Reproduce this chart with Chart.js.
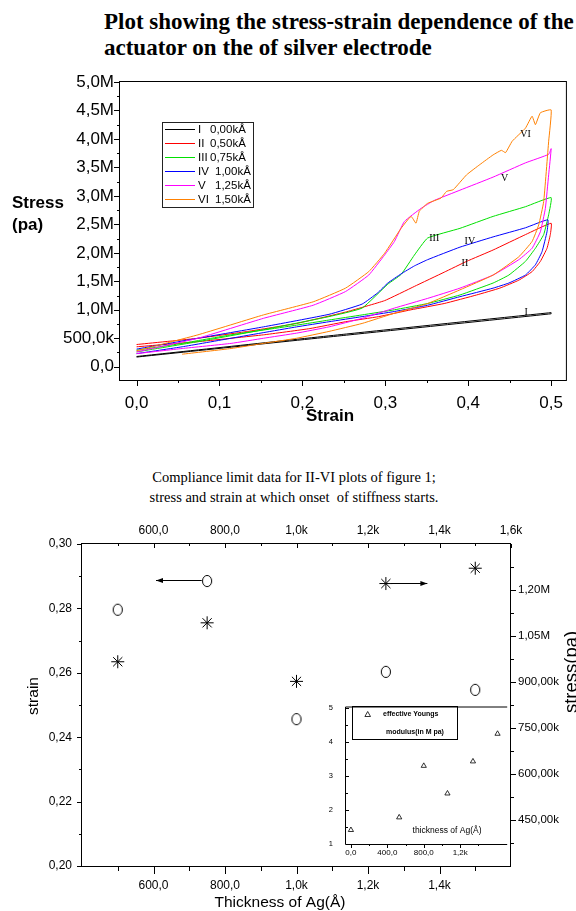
<!DOCTYPE html>
<html>
<head>
<meta charset="utf-8">
<title>Stress-strain of the silver electrode actuator</title>
<script src="https://cdn.jsdelivr.net/npm/chart.js@4.4.1/dist/chart.umd.min.js"></script>
<style>
  body { margin: 0; background: #fff; }
  #page { position: relative; width: 576px; height: 911px; overflow: hidden; background: #fff; }
  #page canvas { position: absolute; }
  .heading { position: absolute; white-space: nowrap; color: #000; }
  #title1 { left: 104px; top: 9px; font: bold 23px/26px "Liberation Serif", "Times New Roman", serif; }
  #title2 { left: 0; width: 588px; top: 467px; text-align: center; font: 14.5px/20px "Liberation Serif", "Times New Roman", serif; }
</style>
</head>
<body>
<div id="page">
  <div id="title1" class="heading">Plot showing the stress-strain dependence of the<br>actuator on the of silver electrode</div>
  <canvas id="loopChart" width="576" height="370" style="left:0;top:60px"></canvas>
  <div id="title2" class="heading">Compliance limit data for II-VI plots of figure 1;<br>stress and strain at which onset&nbsp; of stiffness starts.</div>
  <canvas id="onsetChart" width="576" height="396" style="left:0;top:515px"></canvas>
  <canvas id="insetChart" width="212" height="175" style="left:300px;top:690px"></canvas>
</div>
<script>
/*-------------------------------------------------------------------------------
 DATA - top plot, stress (MPa) against strain, loading branch then unloading
 -------------------------------------------------------------------------------*/

const loopNames = ['I', 'II', 'III', 'IV', 'V', 'VI'];
const loopThickness = ['0,00kÅ', '0,50kÅ', '0,75kÅ', '1,00kÅ', '1,25kÅ', '1,50kÅ'];

const strainI = [0, 0.25, 0.5, 0.5, 0.25, 0];
const stressI = [0.18, 0.57, 0.95, 0.93, 0.55, 0.17];

const strainII = [0, 0.074, 0.134, 0.193, 0.252, 0.299, 0.335, 0.371, 0.398, 0.43, 0.469, 0.5,
    0.499, 0.495, 0.487, 0.477, 0.461, 0.438, 0.41, 0.371, 0.331, 0.292, 0.252, 0.209, 0.153, 0.074, 0];
const stressII = [0.39, 0.50, 0.62, 0.76, 0.96, 1.16, 1.41, 1.66, 1.85, 2.05, 2.32, 2.52,
    2.32, 2.08, 1.85, 1.67, 1.52, 1.38, 1.26, 1.11, 1.00, 0.88, 0.79, 0.67, 0.56, 0.44, 0.35];

const strainIII = [0, 0.074, 0.153, 0.232, 0.272, 0.303, 0.319, 0.335, 0.351, 0.39, 0.43, 0.469, 0.5,
    0.497, 0.491, 0.481, 0.469, 0.449, 0.43, 0.39, 0.351, 0.311, 0.272, 0.232, 0.193, 0.114, 0.055, 0];
const stressIII = [0.26, 0.44, 0.65, 0.88, 1.03, 1.45, 1.62, 1.96, 2.26, 2.43, 2.64, 2.81, 2.97,
    2.67, 2.32, 2.08, 1.85, 1.61, 1.47, 1.26, 1.11, 1.00, 0.91, 0.82, 0.73, 0.56, 0.41, 0.29];

const strainIV = [0, 0.074, 0.153, 0.232, 0.272, 0.291, 0.303, 0.319, 0.335, 0.351, 0.39, 0.43, 0.469, 0.496,
    0.495, 0.489, 0.481, 0.469, 0.449, 0.43, 0.39, 0.351, 0.311, 0.272, 0.232, 0.193, 0.114, 0.055, 0];
const stressIV = [0.31, 0.50, 0.70, 0.92, 1.10, 1.30, 1.47, 1.63, 1.77, 1.88, 2.10, 2.28, 2.44, 2.58,
    2.37, 2.02, 1.79, 1.61, 1.47, 1.38, 1.23, 1.08, 0.97, 0.88, 0.79, 0.70, 0.50, 0.35, 0.23];

const strainV = [0, 0.074, 0.153, 0.213, 0.252, 0.28, 0.299, 0.311, 0.323, 0.343, 0.359, 0.39, 0.43, 0.469, 0.497, 0.5,
    0.497, 0.493, 0.487, 0.477, 0.461, 0.43, 0.39, 0.351, 0.311, 0.272, 0.232, 0.193, 0.153, 0.114, 0.055, 0];
const stressV = [0.26, 0.50, 0.85, 1.08, 1.32, 1.61, 1.96, 2.20, 2.55, 2.78, 2.92, 3.10, 3.33, 3.58, 3.73, 3.83,
    3.37, 2.78, 2.37, 2.08, 1.88, 1.61, 1.38, 1.20, 1.03, 0.85, 0.70, 0.59, 0.50, 0.41, 0.32, 0.23];

const strainVI = [0, 0.074, 0.153, 0.213, 0.252, 0.28, 0.299, 0.319, 0.331, 0.337, 0.341, 0.351, 0.367, 0.374,
    0.382, 0.398, 0.414, 0.43, 0.44, 0.445, 0.453, 0.469, 0.477, 0.481, 0.487, 0.5,
    0.497, 0.491, 0.485, 0.477, 0.461, 0.43, 0.39, 0.351, 0.311, 0.272, 0.232, 0.193, 0.153, 0.114, 0.055];
const stressVI = [0.28, 0.56, 0.91, 1.14, 1.38, 1.67, 1.99, 2.43, 2.64, 2.52, 2.73, 2.87, 2.96, 3.08,
    3.11, 3.37, 3.55, 3.72, 3.80, 3.76, 3.96, 4.19, 4.40, 4.25, 4.46, 4.51,
    3.96, 2.90, 2.49, 2.20, 1.93, 1.61, 1.35, 1.11, 0.94, 0.76, 0.62, 0.50, 0.41, 0.32, 0.22];

// where each roman numeral tag sits on the plot
const tagStrain = [0.470, 0.396, 0.359, 0.402, 0.444, 0.469];
const tagStress = [0.95, 1.81, 2.25, 2.21, 3.30, 4.08];

const strainTicks = [0, 0.1, 0.2, 0.3, 0.4, 0.5];
const strainTickLabels = ['0,0', '0,1', '0,2', '0,3', '0,4', '0,5'];
const stressTicks = [0, 0.5, 1, 1.5, 2, 2.5, 3, 3.5, 4, 4.5, 5];
const stressTickLabels = ['0,0', '500,0k', '1,0M', '1,5M', '2,0M', '2,5M', '3,0M', '3,5M', '4,0M', '4,5M', '5,0M'];

/*-------------------------------------------------------------------------------
 DATA - bottom plot, onset of stiffness against Ag thickness
 -------------------------------------------------------------------------------*/

const thickness = [500, 750, 1000, 1250, 1500];
const onsetStrain = [0.2796, 0.2885, 0.2456, 0.2603, 0.2547];
const onsetStress = [966e3, 1093e3, 902e3, 1221e3, 1271e3];

// arrows telling which axis each marker belongs to
const strainArrowX = [735, 607];
const strainArrowY = 0.2888;
const stressArrowX = [1264, 1366];
const stressArrowY = 1224e3;

const thickTicks = [600, 800, 1000, 1200, 1400];
const thickTickLabels = ['600,0', '800,0', '1,0k', '1,2k', '1,4k'];
const thickTopTicks = [600, 800, 1000, 1200, 1400, 1600];
const thickTopTickLabels = ['600,0', '800,0', '1,0k', '1,2k', '1,4k', '1,6k'];
const onsetStrainTicks = [0.20, 0.22, 0.24, 0.26, 0.28, 0.30];
const onsetStrainTickLabels = ['0,20', '0,22', '0,24', '0,26', '0,28', '0,30'];
const onsetStressTicks = [450e3, 600e3, 750e3, 900e3, 1050e3, 1200e3];
const onsetStressTickLabels = ['450,00k', '600,00k', '750,00k', '900,00k', '1,05M', '1,20M'];

// inset: effective Youngs modulus
const insetThickness = [0, 530, 800, 1060, 1340, 1610];
const youngsModulus = [1.41, 1.78, 3.29, 2.48, 3.42, 4.23];
const insetXTicks = [0, 400, 800, 1200];
const insetXTickLabels = ['0,0', '400,0', '800,0', '1,2k'];
const insetYTicks = [1, 2, 3, 4, 5];
const insetYTickLabels = ['1', '2', '3', '4', '5'];


/*-------------------------------------------------------------------------------
 helpers
 -------------------------------------------------------------------------------*/

const sansFont = '"Liberation Sans", Arial, sans-serif';
const serifFont = '"Liberation Serif", "Times New Roman", serif';
const loopColors = ['#000000', '#ff0000', '#00e000', '#0000ff', '#ff00ff', '#ff8000'];

function fixedTicks(values) {
    return function (scale) {
        scale.ticks = values.map(v => ({value: v}));
    };
}

function midpoints(arr) {
    return arr.slice(1).map((v, i) => (v + arr[i]) / 2);
}

function px(scale, v) {
    return Math.round(scale.getPixelForValue(v)) + 0.5;
}

function hLine(ctx, x1, x2, y) {
    ctx.beginPath();
    ctx.moveTo(x1, y);
    ctx.lineTo(x2, y);
    ctx.stroke();
}

function vLine(ctx, x, y1, y2) {
    ctx.beginPath();
    ctx.moveTo(x, y1);
    ctx.lineTo(x, y2);
    ctx.stroke();
}

function arrow(ctx, x1, x2, y) {
    hLine(ctx, x1, x2, y);
    const dir = x2 > x1 ? 1 : -1;
    ctx.beginPath();
    ctx.moveTo(x2, y);
    ctx.lineTo(x2 - dir * 7, y - 2.5);
    ctx.lineTo(x2 - dir * 7, y + 2.5);
    ctx.closePath();
    ctx.fill();
}

// hollow, slightly tall ellipse like the original markers
function ellipseMarker() {
    const c = document.createElement('canvas');
    c.width = 12;
    c.height = 14;
    const g = c.getContext('2d');
    g.strokeStyle = '#000';
    g.lineWidth = 1;
    g.beginPath();
    g.ellipse(6, 7, 4.6, 5.6, 0, 0, Math.PI * 2);
    g.stroke();
    return c;
}


/*-------------------------------------------------------------------------------
 TOP CHART - hysteresis loops
 -------------------------------------------------------------------------------*/

const loopDecor = {
    id: 'loopDecor',
    afterDraw(chart) {
        const {ctx, chartArea: a, scales: {x, y}} = chart;
        ctx.save();
        ctx.strokeStyle = '#000';
        ctx.lineWidth = 1;
        ctx.strokeRect(a.left - 0.5, a.top - 0.5, a.right - a.left, a.bottom - a.top + 1);

        strainTicks.forEach(v => vLine(ctx, px(x, v), a.bottom, a.bottom + 6));
        midpoints(strainTicks).forEach(v => vLine(ctx, px(x, v), a.bottom, a.bottom + 3));
        stressTicks.forEach(v => hLine(ctx, a.left - 6, a.left, px(y, v)));
        midpoints(stressTicks).forEach(v => hLine(ctx, a.left - 3, a.left, px(y, v)));

        // legend box
        ctx.fillStyle = '#fff';
        ctx.fillRect(162, 62, 91, 85);
        ctx.strokeStyle = '#222';
        ctx.strokeRect(162.5, 62.5, 91, 85);
        ctx.font = '11.5px ' + sansFont;
        ctx.textBaseline = 'middle';
        ctx.textAlign = 'left';
        loopNames.forEach((name, i) => {
            const ly = 69.5 + i * 14;
            ctx.strokeStyle = loopColors[i];
            hLine(ctx, 165, 195, ly);
            ctx.fillStyle = '#000';
            ctx.fillText(name, 198, ly);
            ctx.fillText(loopThickness[i], loopThickness[i][0] === '1' ? 215 : 210, ly);
        });

        // tags on the curves
        ctx.font = '10px ' + serifFont;
        ctx.textAlign = 'center';
        loopNames.forEach((name, i) => {
            ctx.fillText(name, x.getPixelForValue(tagStrain[i]), y.getPixelForValue(tagStress[i]));
        });

        // axis titles
        ctx.font = 'bold 17px ' + sansFont;
        ctx.textAlign = 'left';
        ctx.fillText('Stress', 12, 143);
        ctx.fillText('(pa)', 12, 165);
        ctx.textAlign = 'center';
        ctx.fillText('Strain', 330, 356);
        ctx.restore();
    }
};

const strainSets = [strainI, strainII, strainIII, strainIV, strainV, strainVI];
const stressSets = [stressI, stressII, stressIII, stressIV, stressV, stressVI];

new Chart(document.getElementById('loopChart').getContext('2d'), {
    type: 'line',
    data: {
        datasets: strainSets.map((s, i) => ({
            label: loopNames[i] + ' ' + loopThickness[i],
            data: s.map((v, j) => ({x: v, y: stressSets[i][j]})),
            borderColor: loopColors[i],
            borderWidth: 1,
            pointRadius: 0,
            tension: 0.12,
            fill: false,
            order: -i
        }))
    },
    options: {
        responsive: false,
        animation: false,
        events: [],
        layout: {padding: {top: 22, right: 1, bottom: 0, left: 0}},
        plugins: {legend: {display: false}, tooltip: {enabled: false}},
        scales: {
            x: {
                type: 'linear',
                min: -0.02,
                max: 0.519,
                afterBuildTicks: fixedTicks(strainTicks),
                afterFit: scale => { scale.height = 50; },
                grid: {display: false, drawTicks: false},
                border: {display: false},
                ticks: {
                    callback: (v, i) => strainTickLabels[i],
                    autoSkip: false,
                    maxRotation: 0,
                    padding: 13,
                    color: '#000',
                    font: {family: sansFont, size: 17}
                }
            },
            y: {
                type: 'linear',
                min: -0.233,
                max: 5.0,
                afterBuildTicks: fixedTicks(stressTicks),
                afterFit: scale => { scale.width = 120; },
                grid: {display: false, drawTicks: false},
                border: {display: false},
                ticks: {
                    callback: (v, i) => stressTickLabels[i],
                    autoSkip: false,
                    padding: 6,
                    color: '#000',
                    font: {family: sansFont, size: 17}
                }
            }
        }
    },
    plugins: [loopDecor]
});


/*-------------------------------------------------------------------------------
 BOTTOM CHART - onset of stiffness
 -------------------------------------------------------------------------------*/

const onsetDecor = {
    id: 'onsetDecor',
    afterDraw(chart) {
        const {ctx, chartArea: a, scales: {x, y, y1}} = chart;
        ctx.save();
        ctx.strokeStyle = '#000';
        ctx.fillStyle = '#000';
        ctx.lineWidth = 1;
        ctx.strokeRect(a.left - 0.5, a.top - 0.5, a.right - a.left, a.bottom - a.top + 1);

        const xMinor = midpoints([400].concat(thickTopTicks));
        thickTicks.forEach(v => vLine(ctx, px(x, v), a.bottom, a.bottom + 8));
        xMinor.forEach(v => vLine(ctx, px(x, v), a.bottom, a.bottom + 5));
        thickTopTicks.forEach(v => vLine(ctx, px(x, v), a.top, a.top + 4));
        xMinor.forEach(v => vLine(ctx, px(x, v), a.top, a.top + 2));

        onsetStrainTicks.forEach(v => hLine(ctx, a.left - 5, a.left, px(y, v)));
        midpoints(onsetStrainTicks).forEach(v => hLine(ctx, a.left - 3, a.left, px(y, v)));
        const stressMinor = midpoints([300e3].concat(onsetStressTicks, [1350e3]));
        onsetStressTicks.forEach(v => hLine(ctx, a.right, a.right + 5, px(y1, v)));
        stressMinor.forEach(v => hLine(ctx, a.right, a.right + 3, px(y1, v)));

        arrow(ctx, x.getPixelForValue(strainArrowX[0]), x.getPixelForValue(strainArrowX[1]), px(y, strainArrowY));
        arrow(ctx, x.getPixelForValue(stressArrowX[0]), x.getPixelForValue(stressArrowX[1]), px(y1, stressArrowY));

        ctx.font = '15.5px ' + sansFont;
        ctx.textAlign = 'center';
        ctx.textBaseline = 'middle';
        ctx.fillText('Thickness of Ag(Å)', 280, 388);

        ctx.save();
        ctx.translate(34, 181);
        ctx.rotate(-Math.PI / 2);
        ctx.fillText('strain', 0, 0);
        ctx.restore();

        // right title runs off the edge of the picture, as in the original
        ctx.save();
        ctx.translate(577, 157);
        ctx.rotate(-Math.PI / 2);
        ctx.font = '18.5px ' + sansFont;
        ctx.textBaseline = 'alphabetic';
        ctx.fillText('stress(pa)', 0, 0);
        ctx.restore();
        ctx.restore();
    }
};

function sideAxis(ticks, labels, size, pad) {
    return {
        afterBuildTicks: fixedTicks(ticks),
        grid: {display: false, drawTicks: false},
        border: {display: false},
        ticks: {
            callback: (v, i) => labels[i],
            autoSkip: false,
            maxRotation: 0,
            padding: pad,
            color: '#000',
            font: {family: sansFont, size: size}
        }
    };
}

new Chart(document.getElementById('onsetChart').getContext('2d'), {
    type: 'scatter',
    data: {
        datasets: [{
            label: 'strain',
            data: thickness.map((t, i) => ({x: t, y: onsetStrain[i]})),
            yAxisID: 'y',
            pointStyle: ellipseMarker(),
            pointRadius: 6
        }, {
            label: 'stress',
            data: thickness.map((t, i) => ({x: t, y: onsetStress[i]})),
            yAxisID: 'y1',
            pointStyle: 'star',
            pointRadius: 6.5,
            borderColor: '#000',
            borderWidth: 1
        }]
    },
    options: {
        responsive: false,
        animation: false,
        events: [],
        layout: {padding: 0},
        plugins: {legend: {display: false}, tooltip: {enabled: false}},
        scales: {
            x: Object.assign(sideAxis(thickTicks, thickTickLabels, 12, 12), {
                type: 'linear', position: 'bottom', min: 400, max: 1600,
                afterFit: scale => { scale.height = 45; }
            }),
            x2: Object.assign(sideAxis(thickTopTicks, thickTopTickLabels, 12, 6), {
                type: 'linear', position: 'top', min: 400, max: 1600,
                afterFit: scale => { scale.height = 29; }
            }),
            y: Object.assign(sideAxis(onsetStrainTicks, onsetStrainTickLabels, 12, 10), {
                type: 'linear', position: 'left', min: 0.20, max: 0.30,
                afterFit: scale => { scale.width = 82; }
            }),
            y1: Object.assign(sideAxis(onsetStressTicks, onsetStressTickLabels, 11.5, 7), {
                type: 'linear', position: 'right', min: 300e3, max: 1350e3,
                afterFit: scale => { scale.width = 65; }
            })
        }
    },
    plugins: [onsetDecor]
});


/*-------------------------------------------------------------------------------
 INSET - effective Youngs modulus
 -------------------------------------------------------------------------------*/

const insetDecor = {
    id: 'insetDecor',
    beforeDraw(chart) {
        const {ctx, chartArea: a} = chart;
        ctx.save();
        ctx.fillStyle = '#fff';
        ctx.fillRect(a.left, a.top, a.right - a.left - 2, a.bottom - a.top);
        ctx.restore();
    },
    afterDraw(chart) {
        const {ctx, chartArea: a, scales: {x, y}} = chart;
        ctx.save();
        ctx.strokeStyle = '#000';
        ctx.fillStyle = '#000';
        ctx.lineWidth = 1;
        hLine(ctx, a.left - 0.5, a.right, a.top - 0.5);
        hLine(ctx, a.left - 0.5, a.right, a.bottom + 0.5);
        vLine(ctx, a.left - 0.5, a.top - 0.5, a.bottom + 0.5);

        insetXTicks.forEach(v => vLine(ctx, px(x, v), a.bottom, a.bottom + 4));
        midpoints(insetXTicks.concat([1600])).forEach(v => vLine(ctx, px(x, v), a.bottom, a.bottom + 2));
        insetYTicks.forEach(v => hLine(ctx, a.left, a.left + 3, px(y, v)));
        midpoints(insetYTicks).forEach(v => hLine(ctx, a.left, a.left + 2, px(y, v)));

        // legend box
        ctx.strokeRect(52.5, 16.5, 105, 33);
        ctx.beginPath();
        ctx.moveTo(67.7, 21.5);
        ctx.lineTo(70.5, 26.5);
        ctx.lineTo(64.9, 26.5);
        ctx.closePath();
        ctx.lineWidth = 0.8;
        ctx.stroke();
        ctx.font = 'bold 7px ' + sansFont;
        ctx.textBaseline = 'middle';
        ctx.textAlign = 'left';
        ctx.fillText('effective Youngs', 83, 24.5);
        ctx.fillText('modulus(in M pa)', 86, 42);

        ctx.font = '8.5px ' + sansFont;
        ctx.textAlign = 'center';
        ctx.fillText('thickness of Ag(Å)', 147, 141);
        ctx.restore();
    }
};

new Chart(document.getElementById('insetChart').getContext('2d'), {
    type: 'scatter',
    data: {
        datasets: [{
            label: 'effective Youngs modulus(in M pa)',
            data: insetThickness.map((t, i) => ({x: t, y: youngsModulus[i]})),
            pointStyle: 'triangle',
            pointRadius: 3,
            borderColor: '#000',
            borderWidth: 0.8,
            backgroundColor: 'rgba(0,0,0,0)'
        }]
    },
    options: {
        responsive: false,
        animation: false,
        events: [],
        layout: {padding: {top: 9, right: 1, bottom: 0, left: 0}},
        plugins: {legend: {display: false}, tooltip: {enabled: false}},
        scales: {
            x: Object.assign(sideAxis(insetXTicks, insetXTickLabels, 8, 4), {
                type: 'linear', min: -54, max: 1716,
                afterFit: scale => { scale.height = 21; }
            }),
            y: Object.assign(sideAxis(insetYTicks, insetYTickLabels, 7.5, 13), {
                type: 'linear', min: 1, max: 5,
                afterFit: scale => { scale.width = 46; }
            })
        }
    },
    plugins: [insetDecor]
});
</script>
</body>
</html>
